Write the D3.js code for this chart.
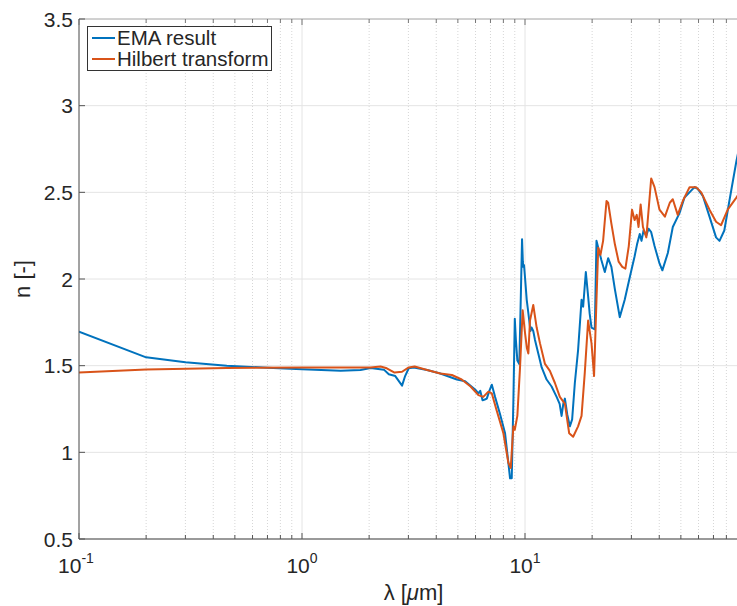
<!DOCTYPE html>
<html>
<head>
<meta charset="utf-8">
<script src="https://cdn.jsdelivr.net/npm/d3@7"></script>
<style>
  body { margin: 0; background: #fff; }
  text { font-family: "Liberation Sans", Arial, Helvetica, sans-serif; fill: #262626; }
</style>
</head>
<body>
<svg id="chart"></svg>
<script>
// EMA result (blue)
const emaLambda = [0.1, 0.2, 0.3, 0.46, 0.7, 1.0, 1.49, 1.83, 2.03, 2.33, 2.45, 2.62, 2.81, 2.9, 3.01, 3.17, 3.64, 4.17, 4.95, 5.39, 5.88, 6.0, 6.18, 6.3, 6.45, 6.6, 6.74, 6.9, 7.1, 7.34, 7.73, 8.14, 8.42, 8.57, 8.72, 8.87, 9.0, 9.1, 9.24, 9.43, 9.57, 9.7, 9.78, 9.83, 9.9, 10.0, 10.18, 10.45, 10.58, 10.7, 10.89, 11.08, 11.47, 11.88, 12.5, 13.16, 13.86, 14.3, 14.59, 14.85, 15.1, 15.46, 15.89, 16.27, 16.73, 17.3, 17.93, 18.23, 18.74, 19.19, 19.5, 19.87, 20.56, 20.92, 21.3, 22.0, 22.8, 23.6, 24.4, 25.3, 26.6, 28.0, 29.5, 31.0, 31.8, 32.7, 33.3, 34.0, 35.0, 35.8, 36.8, 38.1, 40.1, 41.3, 43.7, 46.0, 49.3, 51.9, 55.6, 57.6, 59.5, 62.7, 67.2, 71.9, 74.5, 78.3, 82.5, 88.7, 92];
const emaN = [1.696, 1.548, 1.52, 1.50, 1.488, 1.479, 1.47, 1.475, 1.487, 1.477, 1.45, 1.44, 1.385, 1.44, 1.485, 1.49, 1.475, 1.455, 1.42, 1.41, 1.37, 1.36, 1.34, 1.355, 1.30, 1.305, 1.31, 1.35, 1.39, 1.32, 1.22, 1.11, 0.94, 0.85, 0.85, 1.30, 1.77, 1.65, 1.53, 1.51, 1.88, 2.23, 2.10, 2.07, 2.08, 2.01, 1.88, 1.76, 1.70, 1.72, 1.70, 1.65, 1.57, 1.49, 1.42, 1.38, 1.32, 1.28, 1.21, 1.28, 1.31, 1.22, 1.15, 1.19, 1.40, 1.59, 1.88, 1.84, 2.04, 1.90, 1.80, 1.72, 1.71, 2.22, 2.18, 2.11, 2.04, 2.12, 2.07, 1.94, 1.78, 1.88, 2.01, 2.13, 2.20, 2.26, 2.22, 2.28, 2.25, 2.29, 2.27, 2.19, 2.09, 2.05, 2.15, 2.30, 2.38, 2.47, 2.51, 2.53, 2.52, 2.48, 2.36, 2.24, 2.22, 2.28, 2.45, 2.68, 2.78];

// Hilbert transform (orange)
const hilbertLambda = [0.1, 0.2, 0.46, 1.0, 2.03, 2.25, 2.4, 2.6, 2.81, 3.01, 3.2, 3.64, 4.17, 4.7, 5.2, 5.7, 6.18, 6.5, 6.85, 7.1, 7.47, 8.0, 8.42, 8.63, 8.87, 9.0, 9.24, 9.5, 9.76, 10.0, 10.2, 10.35, 10.53, 10.89, 11.28, 11.67, 12.29, 12.93, 13.62, 14.33, 15.1, 15.78, 16.44, 17.3, 17.93, 18.54, 19.19, 19.87, 20.4, 20.92, 21.3, 21.8, 22.4, 23.2, 23.6, 24.4, 25.3, 26.3, 27.3, 28.2, 29.2, 30.2, 31.0, 31.7, 32.3, 33.0, 33.8, 35.0, 36.8, 38.1, 40.1, 42.4, 44.6, 46.0, 48.4, 51.0, 54.7, 58.5, 61.7, 67.2, 71.9, 75.7, 81.1, 88.7, 92];
const hilbertN = [1.46, 1.478, 1.487, 1.49, 1.49, 1.495, 1.485, 1.46, 1.465, 1.49, 1.495, 1.475, 1.455, 1.446, 1.42, 1.38, 1.33, 1.32, 1.35, 1.34, 1.24, 1.11, 0.94, 0.91, 1.15, 1.13, 1.21, 1.49, 1.82, 1.69, 1.60, 1.57, 1.76, 1.85, 1.72, 1.63, 1.51, 1.47, 1.40, 1.32, 1.28, 1.11, 1.09, 1.15, 1.21, 1.46, 1.76, 1.63, 1.44, 1.88, 2.18, 2.14, 2.22, 2.45, 2.44, 2.32, 2.20, 2.10, 2.07, 2.06, 2.19, 2.40, 2.34, 2.37, 2.30, 2.43, 2.30, 2.24, 2.58, 2.53, 2.40, 2.36, 2.44, 2.46, 2.37, 2.45, 2.53, 2.53, 2.50, 2.40, 2.33, 2.31, 2.40, 2.47, 2.50];

const yTicks = [0.5, 1, 1.5, 2, 2.5, 3, 3.5];
const yTickLabels = ["0.5", "1", "1.5", "2", "2.5", "3", "3.5"];
const xTickExps = [-1, 0, 1, 2];
const seriesNames = ["EMA result", "Hilbert transform"];
const seriesColors = ["#0072BD", "#D95319"];

const width = 737;
const height = 606;
const margin = { top: 19, left: 79, bottom: 67 };
const plotBottom = height - margin.bottom;

const svg = d3.select("#chart").attr("width", width).attr("height", height);

const xScale = d3.scaleLog().domain([0.1, 100]).range([margin.left, margin.left + 3 * 223]);
const yScale = d3.scaleLinear().domain([0.5, 3.5]).range([plotBottom, margin.top]);
const plotRight = xScale(100);

svg.append("clipPath").attr("id", "plotClip")
  .append("rect")
  .attr("x", margin.left).attr("y", margin.top)
  .attr("width", plotRight - margin.left).attr("height", plotBottom - margin.top);

// minor + major x positions
const majorX = xTickExps.map((e) => Math.pow(10, e));
const minorX = [];
[0.1, 1, 10].forEach((dec) => {
  for (let k = 2; k <= 9; k++) minorX.push(dec * k);
});

const grid = svg.append("g").attr("class", "grid");
grid.selectAll(".minorX")
  .data(minorX)
  .join("line")
  .attr("class", "minorX")
  .attr("x1", (d) => xScale(d)).attr("x2", (d) => xScale(d))
  .attr("y1", margin.top).attr("y2", plotBottom)
  .attr("stroke", "#d6d6d6")
  .attr("stroke-width", 1)
  .attr("stroke-dasharray", "1,2");

grid.selectAll(".majorX")
  .data(majorX)
  .join("line")
  .attr("class", "majorX")
  .attr("x1", (d) => xScale(d)).attr("x2", (d) => xScale(d))
  .attr("y1", margin.top).attr("y2", plotBottom)
  .attr("stroke", "#e4e4e4")
  .attr("stroke-width", 1);

grid.selectAll(".majorY")
  .data(yTicks)
  .join("line")
  .attr("class", "majorY")
  .attr("x1", margin.left).attr("x2", plotRight)
  .attr("y1", (d) => yScale(d)).attr("y2", (d) => yScale(d))
  .attr("stroke", "#e4e4e4")
  .attr("stroke-width", 1);

// data lines
const lineGenerator = d3.line()
  .x((d) => xScale(d[0]))
  .y((d) => yScale(d[1]));

const seriesData = [
  d3.zip(emaLambda, emaN),
  d3.zip(hilbertLambda, hilbertN),
];

svg.append("g")
  .attr("clip-path", "url(#plotClip)")
  .selectAll(".series")
  .data(seriesData)
  .join("path")
  .attr("class", "series")
  .attr("fill", "none")
  .attr("stroke", (d, i) => seriesColors[i])
  .attr("stroke-width", 2)
  .attr("stroke-linejoin", "round")
  .attr("d", lineGenerator);

// box: top & bottom gray, left darker
svg.append("line")
  .attr("x1", margin.left).attr("x2", plotRight)
  .attr("y1", plotBottom).attr("y2", plotBottom)
  .attr("stroke", "#9a9a9a").attr("stroke-width", 2);
svg.append("line")
  .attr("x1", margin.left).attr("x2", plotRight)
  .attr("y1", margin.top).attr("y2", margin.top)
  .attr("stroke", "#b0b0b0").attr("stroke-width", 1);
svg.append("line")
  .attr("x1", margin.left).attr("x2", margin.left)
  .attr("y1", margin.top).attr("y2", plotBottom)
  .attr("stroke", "#555").attr("stroke-width", 1);

// ticks (inward)
const allX = majorX.concat(minorX);
svg.selectAll(".xTickB")
  .data(allX)
  .join("line")
  .attr("class", "xTickB")
  .attr("x1", (d) => xScale(d)).attr("x2", (d) => xScale(d))
  .attr("y1", plotBottom).attr("y2", (d) => plotBottom - (majorX.includes(d) ? 6 : 4))
  .attr("stroke", "#555").attr("stroke-width", 1);
svg.selectAll(".xTickT")
  .data(allX)
  .join("line")
  .attr("class", "xTickT")
  .attr("x1", (d) => xScale(d)).attr("x2", (d) => xScale(d))
  .attr("y1", margin.top).attr("y2", (d) => margin.top + (majorX.includes(d) ? 6 : 4))
  .attr("stroke", "#777").attr("stroke-width", 1);
svg.selectAll(".yTick")
  .data(yTicks)
  .join("line")
  .attr("class", "yTick")
  .attr("x1", margin.left).attr("x2", margin.left + 6)
  .attr("y1", (d) => yScale(d)).attr("y2", (d) => yScale(d))
  .attr("stroke", "#555").attr("stroke-width", 1);

// tick labels
svg.selectAll(".yLabel")
  .data(yTicks)
  .join("text")
  .attr("class", "yLabel")
  .attr("x", margin.left - 6)
  .attr("y", (d) => yScale(d))
  .attr("dy", "0.36em")
  .attr("text-anchor", "end")
  .attr("font-size", 21)
  .text((d, i) => yTickLabels[i]);

const xLabels = svg.selectAll(".xLabel")
  .data(xTickExps.filter((e) => xScale(Math.pow(10, e)) < width))
  .join("text")
  .attr("class", "xLabel")
  .attr("x", (d) => xScale(Math.pow(10, d)) + (d < 0 ? -3 : 0))
  .attr("y", 573)
  .attr("text-anchor", "middle")
  .attr("font-size", 21);
xLabels.append("tspan").text("10");
xLabels.append("tspan")
  .attr("dy", -10)
  .attr("font-size", 14)
  .text((d) => d);

// axis titles
const xTitle = svg.append("text")
  .attr("x", (margin.left + plotRight) / 2)
  .attr("y", 600)
  .attr("text-anchor", "middle")
  .attr("font-size", 22);
xTitle.append("tspan").text("\u03bb [");
xTitle.append("tspan").attr("font-style", "italic").text("\u03bc");
xTitle.append("tspan").text("m]");

svg.append("text")
  .attr("transform", `translate(30, ${(margin.top + plotBottom) / 2}) rotate(-90)`)
  .attr("text-anchor", "middle")
  .attr("font-size", 22)
  .text("n [-]");

// legend
const legend = svg.append("g").attr("class", "legend");
legend.append("rect")
  .attr("x", 87.5).attr("y", 26.5)
  .attr("width", 184).attr("height", 44)
  .attr("fill", "#fff")
  .attr("stroke", "#333")
  .attr("stroke-width", 1);
legend.selectAll(".legLine")
  .data(seriesNames)
  .join("line")
  .attr("class", "legLine")
  .attr("x1", 92).attr("x2", 115)
  .attr("y1", (d, i) => 38 + i * 21).attr("y2", (d, i) => 38 + i * 21)
  .attr("stroke", (d, i) => seriesColors[i])
  .attr("stroke-width", 2);
legend.selectAll(".legText")
  .data(seriesNames)
  .join("text")
  .attr("class", "legText")
  .attr("x", 117)
  .attr("y", (d, i) => 38 + i * 21)
  .attr("dy", "0.36em")
  .attr("font-size", 20.5)
  .text((d) => d);
</script>
</body>
</html>
